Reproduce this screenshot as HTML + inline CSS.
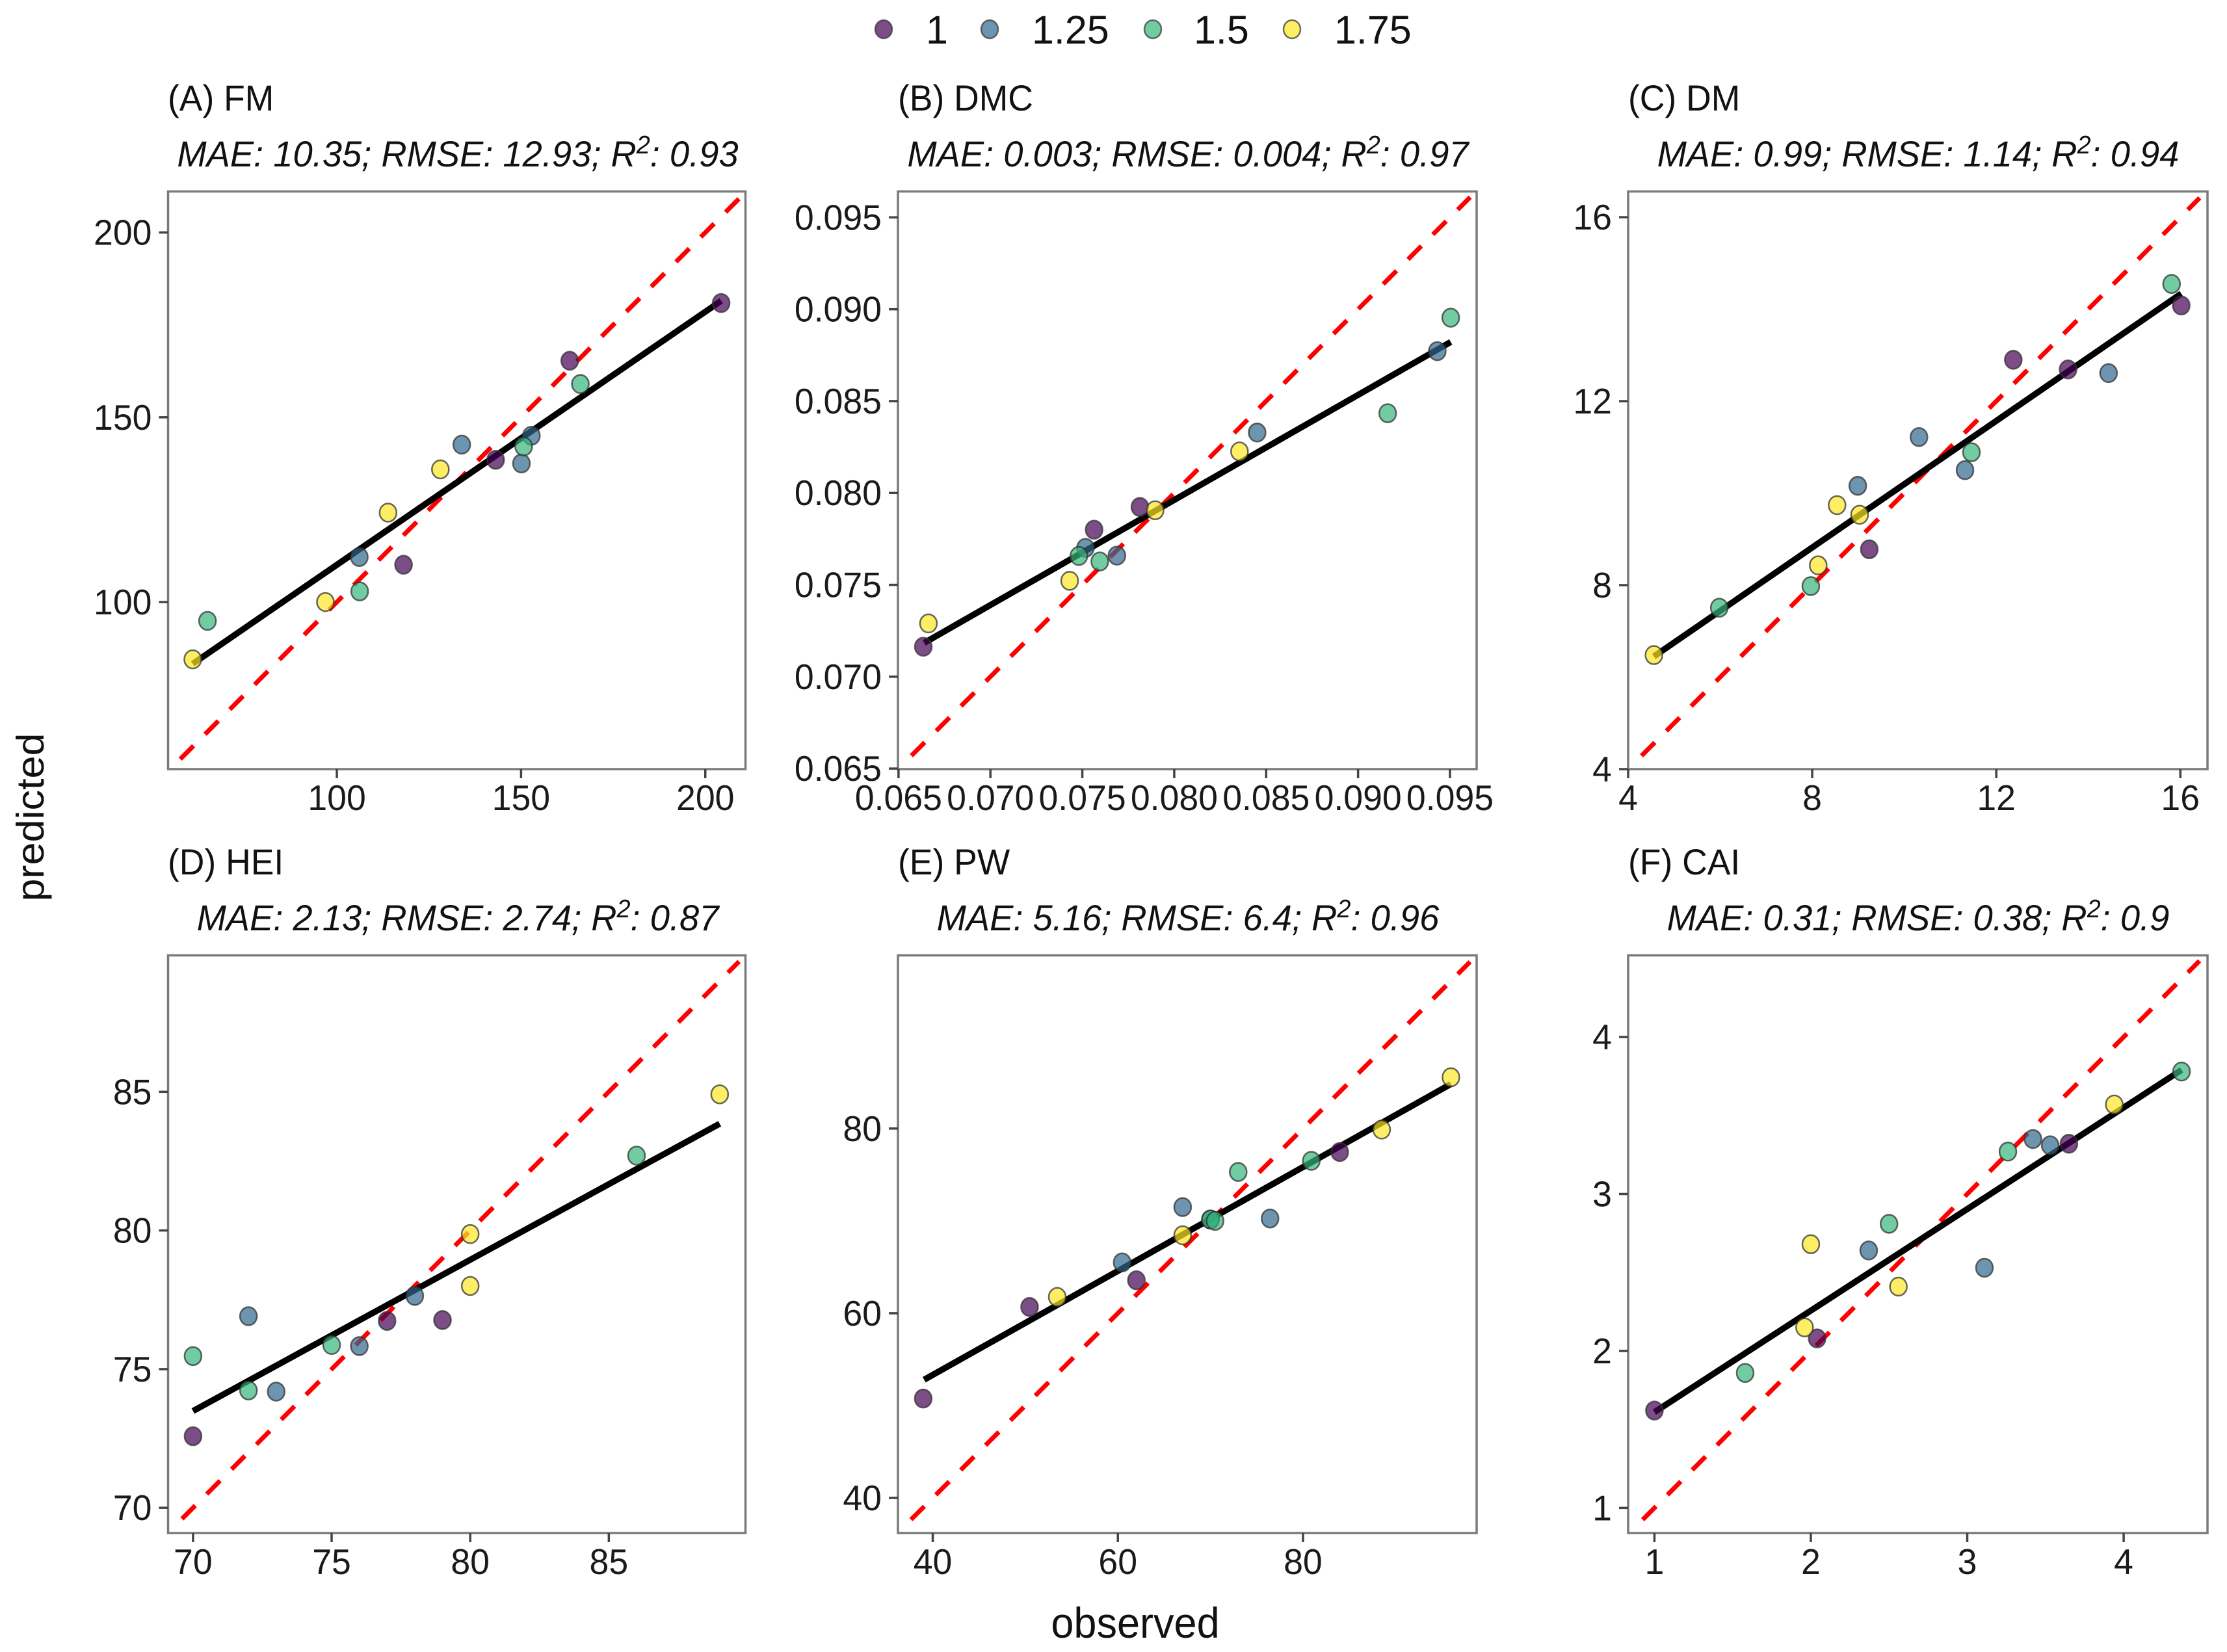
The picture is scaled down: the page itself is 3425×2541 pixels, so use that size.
<!DOCTYPE html>
<html lang="en">
<head>
<meta charset="utf-8">
<title>Observed vs predicted</title>
<style>
html,body{margin:0;padding:0;background:#fff;}
svg{display:block;font-family:"Liberation Sans",Arial,sans-serif;fill:#000;}
</style>
</head>
<body>
<svg id="chart" xmlns="http://www.w3.org/2000/svg" width="3425" height="2541" viewBox="0 0 3425 2541">
<rect x="0" y="0" width="3425" height="2541" fill="#fff"/>

<g id="legend" font-size="61" fill="#111">
  <g>
    <ellipse cx="1359" cy="45" rx="13" ry="14" fill="#440154" fill-opacity=".7" stroke="#333" stroke-opacity=".7" stroke-width="2.5"/>
    <text transform="translate(1424,67)">1</text>
  </g>
  <g>
    <ellipse cx="1522" cy="45" rx="13" ry="14" fill="#31688e" fill-opacity=".7" stroke="#333" stroke-opacity=".7" stroke-width="2.5"/>
    <text transform="translate(1587,67)">1.25</text>
  </g>
  <g>
    <ellipse cx="1773" cy="45" rx="13" ry="14" fill="#35b779" fill-opacity=".7" stroke="#333" stroke-opacity=".7" stroke-width="2.5"/>
    <text transform="translate(1836,67)">1.5</text>
  </g>
  <g>
    <ellipse cx="1987" cy="45" rx="13" ry="14" fill="#fde725" fill-opacity=".7" stroke="#333" stroke-opacity=".7" stroke-width="2.5"/>
    <text transform="translate(2052,67)">1.75</text>
  </g>
</g>

<g font-size="56" fill="#111">
  <text transform="translate(258,170) scale(.955,1)">(A) FM</text>
  <text transform="translate(1381,170) scale(.955,1)">(B) DMC</text>
  <text transform="translate(2504,170) scale(.955,1)">(C) DM</text>
  <text transform="translate(258,1345) scale(.955,1)">(D) HEI</text>
  <text transform="translate(1381,1345) scale(.955,1)">(E) PW</text>
  <text transform="translate(2504,1345) scale(.955,1)">(F) CAI</text>
</g>

<g font-size="56" font-style="italic" text-anchor="middle" fill="#111">
  <text transform="translate(704,256) scale(.97,1)">MAE: 10.35; RMSE: 12.93; R<tspan font-size="39" dy="-20">2</tspan><tspan dy="20">: 0.93</tspan></text>
  <text transform="translate(1827,256) scale(.97,1)">MAE: 0.003; RMSE: 0.004; R<tspan font-size="39" dy="-20">2</tspan><tspan dy="20">: 0.97</tspan></text>
  <text transform="translate(2950,256) scale(.97,1)">MAE: 0.99; RMSE: 1.14; R<tspan font-size="39" dy="-20">2</tspan><tspan dy="20">: 0.94</tspan></text>
  <text transform="translate(704,1431) scale(.97,1)">MAE: 2.13; RMSE: 2.74; R<tspan font-size="39" dy="-20">2</tspan><tspan dy="20">: 0.87</tspan></text>
  <text transform="translate(1827,1431) scale(.97,1)">MAE: 5.16; RMSE: 6.4; R<tspan font-size="39" dy="-20">2</tspan><tspan dy="20">: 0.96</tspan></text>
  <text transform="translate(2950,1431) scale(.97,1)">MAE: 0.31; RMSE: 0.38; R<tspan font-size="39" dy="-20">2</tspan><tspan dy="20">: 0.9</tspan></text>
</g>

<text font-size="66" fill="#111" text-anchor="middle" transform="translate(1746,2519) scale(.955,1)">observed</text>
<text font-size="63" fill="#111" text-anchor="middle" transform="translate(67,1257) rotate(-90) scale(1,.94)">predicted</text>

<g id="panels"></g>
</svg>

<script>
// Group order: 1, 1.25, 1.5, 1.75
const groupColors = ['#440154', '#31688e', '#35b779', '#fde725'];
const groupKeys = ['1', '1-25', '1-5', '1-75'];

// (A) FM
const fmLimits = [54.2, 210.9, 54.8, 211.1];
const fmTicksX = [100, 150, 200];
const fmTicksY = [100, 150, 200];
const fmLabelsX = ['100', '150', '200'];
const fmLabelsY = ['100', '150', '200'];
const fmObserved = [[204.3, 163.2, 143.1, 118.1], [133.9, 152.8, 150.1, 106.1], [166.1, 150.7, 106.2, 64.9], [128.1, 113.9, 96.9, 60.9]];
const fmPredicted = [[180.9, 165.3, 138.5, 110.1], [142.6, 145.0, 137.5, 112.2], [159.0, 142.1, 102.9, 94.9], [135.9, 124.2, 100.0, 84.5]];
const fmFitX = [60.9, 204.3];
const fmFitY = [83.3, 181.5];
const fmIdentity = [57.5, 209.4];

// (B) DMC
const dmcLimits = [0.06497, 0.09645, 0.06497, 0.09641];
const dmcTicksX = [0.065, 0.07, 0.075, 0.08, 0.085, 0.09, 0.095];
const dmcTicksY = [0.065, 0.07, 0.075, 0.08, 0.085, 0.09, 0.095];
const dmcLabelsX = ['0.065', '0.070', '0.075', '0.080', '0.085', '0.090', '0.095'];
const dmcLabelsY = ['0.065', '0.070', '0.075', '0.080', '0.085', '0.090', '0.095'];
const dmcObserved = [[0.06635, 0.07564, 0.07813], [0.07517, 0.07688, 0.08451, 0.09431], [0.07481, 0.07595, 0.09161, 0.09504], [0.06663, 0.07431, 0.07896, 0.08355]];
const dmcPredicted = [[0.07163, 0.07800, 0.07924], [0.07701, 0.07659, 0.08329, 0.08772], [0.07657, 0.07627, 0.08434, 0.08954], [0.07290, 0.07522, 0.07906, 0.08226]];
const dmcFitX = [0.0664, 0.09504];
const dmcFitY = [0.07184, 0.08822];
const dmcIdentity = [0.0657, 0.0961];

// (C) DM
const dmLimits = [4.0, 16.59, 4.0, 16.56];
const dmTicksX = [4, 8, 12, 16];
const dmTicksY = [4, 8, 12, 16];
const dmLabelsX = ['4', '8', '12', '16'];
const dmLabelsY = ['4', '8', '12', '16'];
const dmObserved = [[16.02, 13.56, 12.37, 9.24], [14.44, 10.32, 11.32, 8.99], [15.81, 11.46, 7.97, 5.98], [8.54, 9.03, 8.13, 4.56]];
const dmPredicted = [[14.08, 12.69, 12.90, 8.78], [12.61, 11.22, 10.50, 10.16], [14.55, 10.89, 7.98, 7.51], [9.74, 9.53, 8.43, 6.48]];
const dmFitX = [4.56, 16.02];
const dmFitY = [6.45, 14.34];
const dmIdentity = [4.29, 16.42];

// (D) HEI
const heiLimits = [69.1, 89.93, 69.09, 89.92];
const heiTicksX = [70, 75, 80, 85];
const heiTicksY = [70, 75, 80, 85];
const heiLabelsX = ['70', '75', '80', '85'];
const heiLabelsY = ['70', '75', '80', '85'];
const heiObserved = [[70, 77, 79], [72, 73, 76, 78], [70, 72, 75, 86], [80, 80, 89]];
const heiPredicted = [[72.58, 76.74, 76.77], [76.91, 74.19, 75.83, 77.64], [75.47, 74.23, 75.87, 82.70], [79.87, 78.00, 84.91]];
const heiFitX = [70, 89];
const heiFitY = [73.49, 83.85];
const heiIdentity = [69.6, 89.7];

// (E) PW
const pwLimits = [36.24, 98.76, 36.2, 98.75];
const pwTicksX = [40, 60, 80];
const pwTicksY = [40, 60, 80];
const pwLabelsX = ['40', '60', '80'];
const pwLabelsY = ['40', '60', '80'];
const pwObserved = [[38.97, 50.46, 62.0, 83.97], [60.46, 67.0, 76.44, 70.0], [70.0, 70.5, 73.0, 80.9], [53.45, 67.0, 88.5, 95.98]];
const pwPredicted = [[50.76, 60.68, 63.57, 77.45], [65.5, 71.5, 70.26, 70.15], [70.15, 70.0, 75.3, 76.5], [61.76, 68.44, 79.89, 85.55]];
const pwFitX = [39.07, 95.98];
const pwFitY = [52.8, 84.82];
const pwIdentity = [37.65, 98.05];

// (F) CAI
const caiLimits = [0.832, 4.536, 0.84, 4.52];
const caiTicksX = [1, 2, 3, 4];
const caiTicksY = [1, 2, 3, 4];
const caiLabelsX = ['1', '2', '3', '4'];
const caiLabelsY = ['1', '2', '3', '4'];
const caiObserved = [[1.0, 2.04, 3.65], [2.37, 3.11, 3.42, 3.53], [1.58, 2.5, 3.26, 4.37], [2.0, 1.96, 2.56, 3.94]];
const caiPredicted = [[1.62, 2.08, 3.32], [2.64, 2.53, 3.35, 3.31], [1.86, 2.81, 3.27, 3.78], [2.68, 2.15, 2.41, 3.57]];
const caiFitX = [1.0, 4.37];
const caiFitY = [1.61, 3.79];
const caiIdentity = [0.925, 4.485];

const NS = 'http://www.w3.org/2000/svg';
const panelsRoot = document.getElementById('panels');

function make(tag, parent, props) {
  const el = document.createElementNS(NS, tag);
  for (const key in props) el.setAttribute(key, props[key]);
  parent.appendChild(el);
  return el;
}

function drawPanel(key, box, limits, ticksX, ticksY, labelsX, labelsY, observed, predicted, fitX, fitY, identity) {
  const left = box[0], top = box[1], width = box[2], height = box[3];
  const scaleX = v => left + (v - limits[0]) / (limits[1] - limits[0]) * width;
  const scaleY = v => top + height - (v - limits[2]) / (limits[3] - limits[2]) * height;

  const g = make('g', panelsRoot, {});
  
  

  const refLine = make('line', g, {
    x1: scaleX(identity[0]), y1: scaleY(identity[0]),
    x2: scaleX(identity[1]), y2: scaleY(identity[1]),
    stroke: '#ff0000', 'stroke-width': 7, 'stroke-dasharray': '29 25'
  });
  
  

  const fitLine = make('line', g, {
    x1: scaleX(fitX[0]), y1: scaleY(fitY[0]),
    x2: scaleX(fitX[1]), y2: scaleY(fitY[1]),
    stroke: '#000', 'stroke-width': 9.5
  });
  
  

  observed.forEach((series, gi) => {
    series.forEach((value, i) => {
      const dot = make('ellipse', g, {
        cx: scaleX(value), cy: scaleY(predicted[gi][i]),
        rx: 13, ry: 14,
        fill: groupColors[gi], 'fill-opacity': 0.7,
        stroke: '#333', 'stroke-opacity': 0.75, 'stroke-width': 2.5
      });
      
      
    });
  });

  const frame = make('rect', g, {
    x: left, y: top, width: width, height: height,
    fill: 'none', stroke: '#7a7a7a', 'stroke-width': 3.5
  });
  
  

  ticksX.forEach((value, i) => {
    const px = scaleX(value);
    const mark = make('line', g, {
      x1: px, x2: px, y1: top + height, y2: top + height + 14,
      stroke: '#444', 'stroke-width': 3.5
    });
    
    
    const label = make('text', g, {
      transform: 'translate(' + px + ',' + (top + height + 63) + ') scale(.975,1)',
      'font-size': 55, 'text-anchor': 'middle', fill: '#1a1a1a'
    });
    label.textContent = labelsX[i];
    
    
  });

  ticksY.forEach((value, i) => {
    const py = scaleY(value);
    const mark = make('line', g, {
      x1: left - 14, x2: left, y1: py, y2: py,
      stroke: '#444', 'stroke-width': 3.5
    });
    
    
    const label = make('text', g, {
      transform: 'translate(' + (left - 25) + ',' + (py + 19) + ') scale(.975,1)',
      'font-size': 55, 'text-anchor': 'end', fill: '#1a1a1a'
    });
    label.textContent = labelsY[i];
    
    
  });
}

drawPanel('fm', [258.5, 294.5, 888, 888.5], fmLimits, fmTicksX, fmTicksY, fmLabelsX, fmLabelsY, fmObserved, fmPredicted, fmFitX, fmFitY, fmIdentity);
drawPanel('dmc', [1381, 294.5, 890, 888.5], dmcLimits, dmcTicksX, dmcTicksY, dmcLabelsX, dmcLabelsY, dmcObserved, dmcPredicted, dmcFitX, dmcFitY, dmcIdentity);
drawPanel('dm', [2504, 294.5, 891, 888.5], dmLimits, dmTicksX, dmTicksY, dmLabelsX, dmLabelsY, dmObserved, dmPredicted, dmFitX, dmFitY, dmIdentity);
drawPanel('hei', [258.5, 1469.5, 888, 888.5], heiLimits, heiTicksX, heiTicksY, heiLabelsX, heiLabelsY, heiObserved, heiPredicted, heiFitX, heiFitY, heiIdentity);
drawPanel('pw', [1381, 1469.5, 890, 888.5], pwLimits, pwTicksX, pwTicksY, pwLabelsX, pwLabelsY, pwObserved, pwPredicted, pwFitX, pwFitY, pwIdentity);
drawPanel('cai', [2504, 1469.5, 891, 888.5], caiLimits, caiTicksX, caiTicksY, caiLabelsX, caiLabelsY, caiObserved, caiPredicted, caiFitX, caiFitY, caiIdentity);
</script>
</body>
</html>
